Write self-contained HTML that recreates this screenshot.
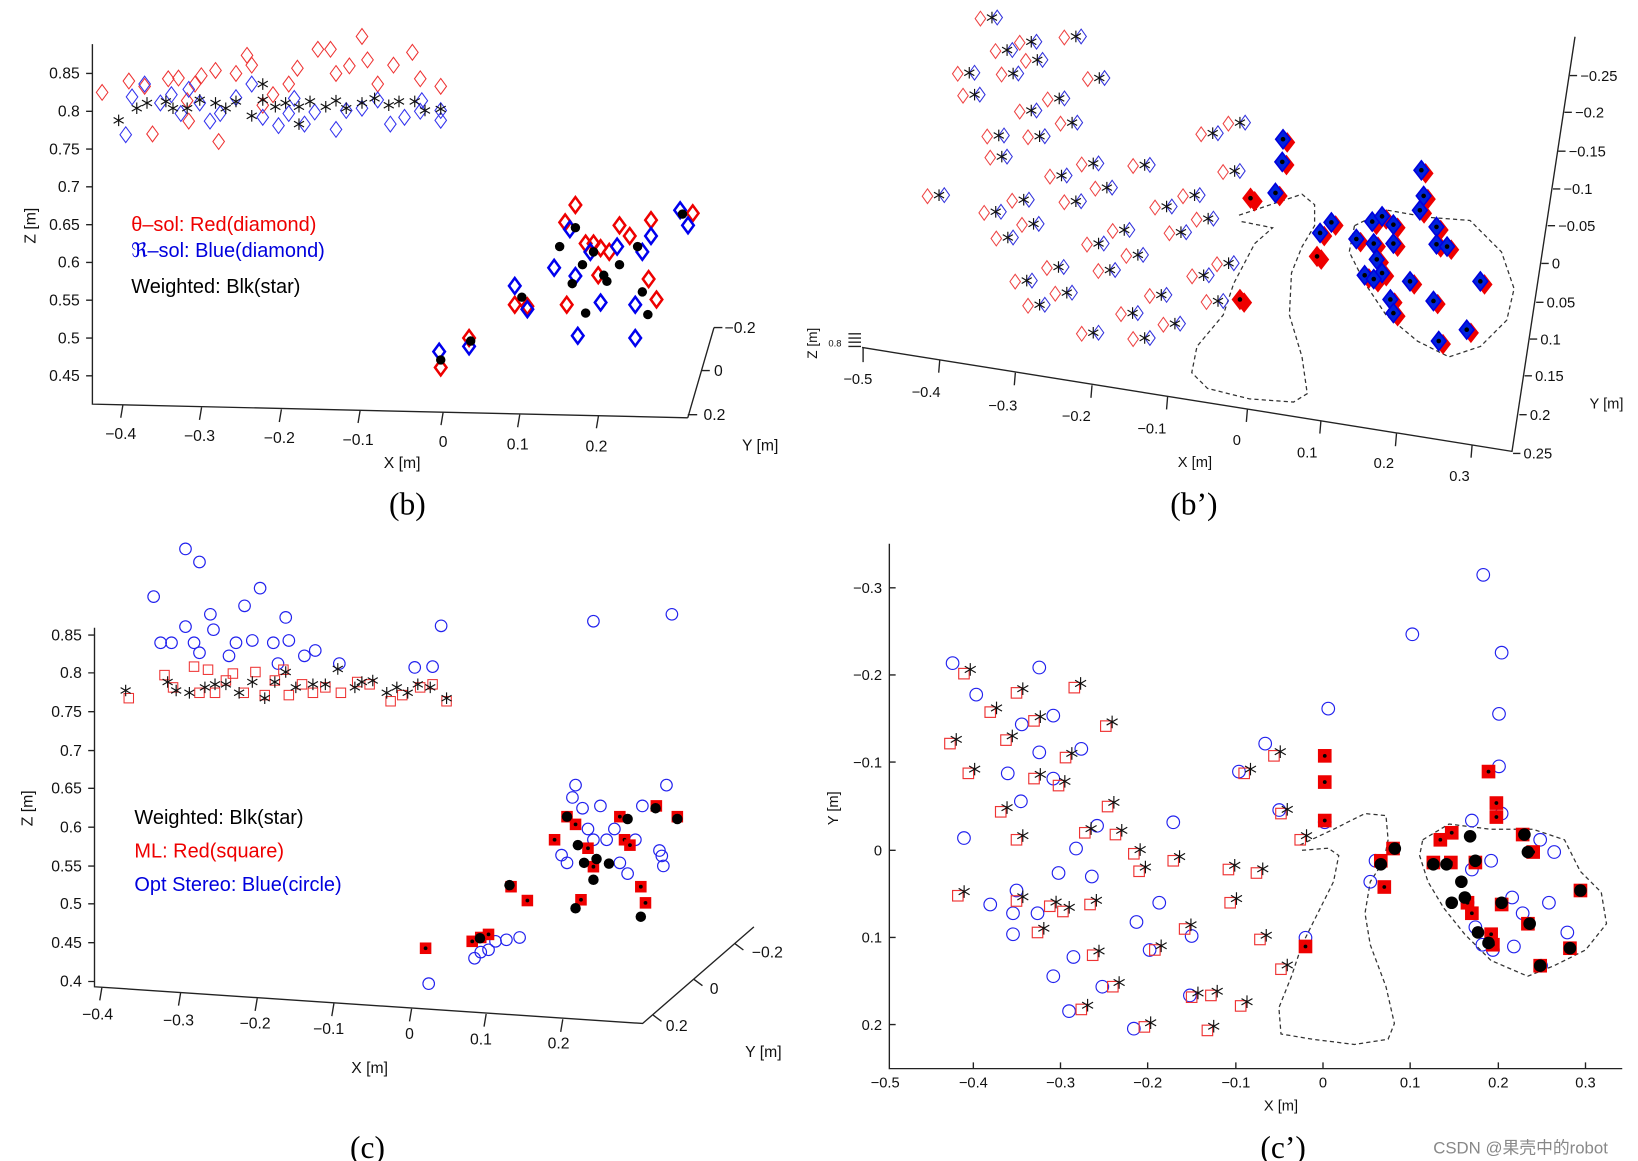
<!DOCTYPE html>
<html><head><meta charset="utf-8"><style>
html,body{margin:0;padding:0;background:#fff;width:1638px;height:1161px;overflow:hidden}
svg{display:block;font-family:"Liberation Sans",Arial,sans-serif}
.t{font-size:15px;fill:#111}
.cap{font-family:"Liberation Serif",serif;font-size:30px;fill:#000}
</style></head><body>
<svg id="chart" width="1638" height="1161" viewBox="0 0 1560 1106" preserveAspectRatio="none" xmlns="http://www.w3.org/2000/svg">
<g id="axes" stroke="#222" stroke-width="1.3" fill="none">
 <path d="M88 42 L88 385 L655 398 M655 398 L680 312 M680 312 L688 312 M668 353 L676 353 M655 395 L664 395"/>
 <path d="M82 70H88M82 106H88M82 142H88M82 178H88M82 214H88M82 250H88M82 286H88M82 322H88M82 358H88"/>
 <path d="M117 386 L115 398M192 388 L190 400M268 390L266 402M343 391L341 403M422 393L420 405M495 395L493 407M570 396L568 408"/>
 <path d="M821 331 L1440 430 L1500 35"/>
 <path d="M822 331L822 345M895 343L894 355M967 355L966 367M1040 367L1039 379M1112 378L1111 390M1188 390L1187 402M1258 401L1257 413M1330 413L1329 425M1402 424L1401 436"/>
 <path d="M1495 72h7M1490 107h7M1484 144h7M1479 180h7M1474 215h7M1468 251h7M1463 288h7M1457 323h7M1452 358h7M1447 395h7M1441 432h7"/>
 <path d="M808 318h12M808 322h12M808 326h12M808 330h12"/>
 <path d="M90 598 L90 940 L612 975 L718 883"/>
 <path d="M84 605H90M84 641H90M84 678H90M84 715H90M84 751H90M84 788H90M84 825H90M84 861H90M84 898H90M84 935H90"/>
 <path d="M97 941L95 953M172 946L170 958M245 951L243 963M318 956L316 968M392 961L390 973M463 966L461 978M536 971L534 983"/>
 <path d="M700 899l8 6M661 933l8 6M622 967l8 6"/>
 <path d="M847 518 L847 1018 L1545 1018"/>
 <path d="M847 560h6M847 643h6M847 726h6M847 810h6M847 893h6M847 976h6"/>
 <path d="M927 1018v-6M1010 1018v-6M1093 1018v-6M1177 1018v-6M1260 1018v-6M1343 1018v-6M1427 1018v-6M1510 1018v-6"/>
</g>
<g id="outlines" fill="none" stroke="#333" stroke-width="1.2" stroke-dasharray="4 3">
 <path d="M1180 205 L1210 195 L1240 185 L1252 195 L1252 215 L1240 235 L1230 260 L1228 300 L1240 340 L1245 375 L1232 383 L1190 380 L1150 370 L1135 355 L1140 330 L1165 300 L1175 270 L1195 232 L1212 217 L1182 211"/>
 <path d="M1290 215 L1320 200 L1360 207 L1400 210 L1430 240 L1442 275 L1435 305 L1410 330 L1380 340 L1350 325 L1320 300 L1300 270 L1285 240 Z"/>
 <path d="M1238 805 L1270 790 L1300 775 L1320 777 L1322 800 L1318 820 L1305 840 L1300 870 L1305 900 L1320 940 L1328 975 L1322 990 L1290 995 L1250 990 L1220 985 L1218 960 L1230 930 L1240 900 L1255 870 L1270 840 L1275 815 L1265 808 L1240 810"/>
 <path d="M1355 800 L1380 785 L1420 790 L1460 790 L1490 800 L1505 830 L1525 850 L1530 880 L1510 905 L1480 920 L1455 930 L1420 915 L1395 890 L1375 865 L1360 840 L1352 815 Z"/>
</g>
<g id="labels">
 <g class="t" text-anchor="end">
  <text x="76" y="75">0.85</text><text x="76" y="111">0.8</text><text x="76" y="147">0.75</text><text x="76" y="183">0.7</text><text x="76" y="219">0.65</text><text x="76" y="255">0.6</text><text x="76" y="291">0.55</text><text x="76" y="327">0.5</text><text x="76" y="363">0.45</text>
 </g>
 <g class="t" text-anchor="middle">
  <text x="115" y="418">−0.4</text><text x="190" y="420">−0.3</text><text x="266" y="422">−0.2</text><text x="341" y="424">−0.1</text><text x="422" y="426">0</text><text x="493" y="428">0.1</text><text x="568" y="430">0.2</text>
 </g>
 <g class="t"><text x="690" y="317">−0.2</text><text x="680" y="358">0</text><text x="670" y="400">0.2</text></g>
 <text class="t" x="383" y="446" text-anchor="middle">X [m]</text>
 <text class="t" x="724" y="429" text-anchor="middle">Y [m]</text>
 <text class="t" transform="translate(34,215) rotate(-90)" text-anchor="middle">Z [m]</text>
 <g style="font-size:19px">
  <text x="125" y="220" fill="#e00">θ–sol: Red(diamond)</text>
  <text x="125" y="245" fill="#00d">ℜ–sol: Blue(diamond)</text>
  <text x="125" y="279" fill="#000">Weighted: Blk(star)</text>
 </g>
 <g class="t" style="font-size:14px" text-anchor="middle">
  <text x="817" y="366">−0.5</text><text x="882" y="378">−0.4</text><text x="955" y="391">−0.3</text><text x="1025" y="401">−0.2</text><text x="1097" y="413">−0.1</text><text x="1178" y="424">0</text><text x="1245" y="436">0.1</text><text x="1318" y="446">0.2</text><text x="1390" y="458">0.3</text>
 </g>
 <g class="t" style="font-size:14px">
  <text x="1505" y="77">−0.25</text><text x="1500" y="112">−0.2</text><text x="1494" y="149">−0.15</text><text x="1489" y="185">−0.1</text><text x="1484" y="220">−0.05</text><text x="1478" y="256">0</text><text x="1473" y="293">0.05</text><text x="1467" y="328">0.1</text><text x="1462" y="363">0.15</text><text x="1457" y="400">0.2</text><text x="1451" y="437">0.25</text>
 </g>
 <text class="t" style="font-size:14px" x="1138" y="445" text-anchor="middle">X [m]</text>
 <text class="t" style="font-size:14px" x="1530" y="389" text-anchor="middle">Y [m]</text>
 <text class="t" style="font-size:13px" transform="translate(778,327) rotate(-90)" text-anchor="middle">Z [m]</text>
 <text class="t" style="font-size:9px" x="789" y="330">0.8</text>
 <g class="t" text-anchor="end">
  <text x="78" y="610">0.85</text><text x="78" y="646">0.8</text><text x="78" y="683">0.75</text><text x="78" y="720">0.7</text><text x="78" y="756">0.65</text><text x="78" y="793">0.6</text><text x="78" y="830">0.55</text><text x="78" y="866">0.5</text><text x="78" y="903">0.45</text><text x="78" y="940">0.4</text>
 </g>
 <g class="t" text-anchor="middle">
  <text x="93" y="971">−0.4</text><text x="170" y="977">−0.3</text><text x="243" y="980">−0.2</text><text x="313" y="985">−0.1</text><text x="390" y="990">0</text><text x="458" y="995">0.1</text><text x="532" y="999">0.2</text>
 </g>
 <g class="t"><text x="716" y="912">−0.2</text><text x="676" y="947">0</text><text x="634" y="982">0.2</text></g>
 <text class="t" x="352" y="1022" text-anchor="middle">X [m]</text>
 <text class="t" x="727" y="1007" text-anchor="middle">Y [m]</text>
 <text class="t" transform="translate(31,770) rotate(-90)" text-anchor="middle">Z [m]</text>
 <g style="font-size:19px">
  <text x="128" y="785" fill="#000">Weighted: Blk(star)</text>
  <text x="128" y="817" fill="#e00">ML: Red(square)</text>
  <text x="128" y="849" fill="#00d">Opt Stereo: Blue(circle)</text>
 </g>
 <g class="t" style="font-size:14px" text-anchor="end">
  <text x="840" y="565">−0.3</text><text x="840" y="648">−0.2</text><text x="840" y="731">−0.1</text><text x="840" y="815">0</text><text x="840" y="898">0.1</text><text x="840" y="981">0.2</text>
 </g>
 <g class="t" style="font-size:14px" text-anchor="middle">
  <text x="843" y="1036">−0.5</text><text x="927" y="1036">−0.4</text><text x="1010" y="1036">−0.3</text><text x="1093" y="1036">−0.2</text><text x="1177" y="1036">−0.1</text><text x="1260" y="1036">0</text><text x="1343" y="1036">0.1</text><text x="1427" y="1036">0.2</text><text x="1510" y="1036">0.3</text>
 </g>
 <text class="t" style="font-size:14px" x="1220" y="1058" text-anchor="middle">X [m]</text>
 <text class="t" style="font-size:14px" transform="translate(798,770) rotate(-90)" text-anchor="middle">Y [m]</text>
 <text class="cap" x="388" y="490" text-anchor="middle">(b)</text>
 <text class="cap" x="1137" y="490" text-anchor="middle">(b’)</text>
 <text class="cap" x="350" y="1103" text-anchor="middle">(c)</text>
 <text class="cap" x="1222" y="1103" text-anchor="middle">(c’)</text>
 <text x="1365" y="1099" style="font-family:'Liberation Sans','Noto Sans CJK SC',sans-serif;font-size:16px" fill="#888">CSDN @果壳中的robot</text>
</g>
<g id="marks"></g>
</svg>
<script>
const bRedUpX=[-0.433,-0.399,-0.379,-0.369,-0.349,-0.336,-0.325,-0.315,-0.307,-0.289,-0.285,-0.263,-0.249,-0.243,-0.216,-0.196,-0.185,-0.159,-0.143,-0.136,-0.119,-0.103,-0.096,-0.083,-0.063,-0.039,-0.029,-0.003,-0.323,-0.229];
const bRedUpZ=[0.825,0.84,0.833,0.77,0.843,0.844,0.814,0.836,0.847,0.854,0.76,0.85,0.874,0.861,0.822,0.836,0.857,0.882,0.882,0.85,0.86,0.899,0.868,0.836,0.861,0.878,0.843,0.833,0.787,0.808];
const bBlueUpX=[-0.403,-0.395,-0.379,-0.359,-0.345,-0.333,-0.323,-0.309,-0.296,-0.283,-0.263,-0.243,-0.229,-0.209,-0.196,-0.189,-0.176,-0.163,-0.136,-0.123,-0.103,-0.083,-0.067,-0.049,-0.029,-0.027,-0.003,-0.003];
const bBlueUpZ=[0.769,0.819,0.836,0.811,0.822,0.797,0.829,0.811,0.787,0.797,0.818,0.836,0.792,0.781,0.797,0.817,0.783,0.799,0.776,0.801,0.804,0.815,0.783,0.792,0.8,0.814,0.788,0.801];
const bStarX=[-0.412,-0.389,-0.376,-0.352,-0.343,-0.325,-0.309,-0.289,-0.276,-0.263,-0.243,-0.229,-0.213,-0.2,-0.183,-0.169,-0.149,-0.136,-0.123,-0.103,-0.087,-0.069,-0.056,-0.036,-0.023,-0.003,-0.229,-0.183];
const bStarZ=[0.788,0.804,0.811,0.813,0.804,0.804,0.815,0.811,0.804,0.813,0.794,0.815,0.806,0.811,0.806,0.813,0.806,0.814,0.804,0.811,0.817,0.808,0.813,0.813,0.801,0.803,0.836,0.783];
const bRedLoX=[-0.003,0.033,0.091,0.107,0.155,0.168,0.181,0.191,0.2,0.211,0.224,0.237,0.264,0.261,0.271,0.317,0.157,0.197];
const bRedLoZ=[0.461,0.5,0.544,0.542,0.653,0.676,0.625,0.625,0.619,0.614,0.649,0.635,0.656,0.578,0.551,0.665,0.544,0.583];
const bBlueLoX=[-0.005,0.033,0.091,0.107,0.141,0.161,0.168,0.171,0.187,0.2,0.221,0.244,0.244,0.253,0.264,0.301,0.311];
const bBlueLoZ=[0.482,0.489,0.569,0.538,0.593,0.644,0.582,0.503,0.614,0.547,0.621,0.544,0.5,0.614,0.635,0.669,0.649];
const bDotX=[-0.003,0.035,0.1,0.148,0.168,0.177,0.181,0.191,0.204,0.224,0.208,0.247,0.253,0.26,0.304,0.164];
const bDotZ=[0.471,0.496,0.554,0.621,0.646,0.597,0.533,0.614,0.583,0.597,0.575,0.621,0.561,0.531,0.664,0.572];
const bpSiteX=[-0.324,-0.272,-0.304,-0.264,-0.354,-0.296,-0.347,-0.213,-0.182,-0.235,-0.272,-0.218,-0.315,-0.261,-0.311,-0.19,-0.232,-0.122,-0.394,-0.282,-0.213,-0.172,-0.319,-0.269,-0.303,-0.183,-0.149,-0.093,-0.056,-0.038,-0.074,-0.131,-0.168,-0.236,-0.278,-0.225,-0.261,-0.1,-0.138,-0.19,-0.122,-0.082,-0.044,-0.011,-0.025,-0.032,0.004,-0.003];
const bpSiteY=[-0.324,-0.292,-0.281,-0.268,-0.251,-0.25,-0.222,-0.299,-0.244,-0.217,-0.201,-0.185,-0.168,-0.167,-0.14,-0.131,-0.115,-0.129,-0.089,-0.083,-0.081,-0.099,-0.067,-0.051,-0.033,-0.025,-0.043,-0.074,-0.089,-0.058,-0.04,-0.01,0.01,0.006,0.024,0.04,0.056,0.043,0.067,0.093,0.1,0.081,0.017,0.001,0.051,-0.171,-0.185,-0.121];
const bpFillX=[0.061,0.06,0.051,0.018,0.004,0.11,0.125,0.106,0.244,0.247,0.242,0.158,0.179,0.192,0.207,0.181,0.207,0.185,0.192,0.169,0.181,0.229,0.264,0.264,0.278,0.322,0.26,0.203,0.207,0.304,0.267];
const bpFillY=[-0.163,-0.133,-0.092,-0.085,0.049,-0.039,-0.053,-0.008,-0.122,-0.088,-0.069,-0.031,-0.054,-0.061,-0.05,-0.025,-0.025,-0.004,0.014,0.017,0.022,0.025,-0.047,-0.024,-0.021,0.025,0.051,0.049,0.067,0.089,0.104];
const bpRedFilled=[0,0,0,1,1,0,0,1,0,0,0,0,0,0,0,0,0,0,0,0,0,0,0,0,0,0,0,0,0,0,0];
const cBlueX=[-0.291,-0.273,-0.332,-0.323,-0.309,-0.291,-0.273,-0.28,-0.259,-0.255,-0.235,-0.226,-0.215,-0.205,-0.195,-0.178,-0.172,-0.162,-0.158,-0.138,-0.124,-0.093,0.004,0.027,0.038,0.234,0.335,0.022,0.081,0.089,0.099,0.108,0.122,0.139,0.193,0.2,0.207,0.211,0.22,0.227,0.234,0.243,0.251,0.261,0.268,0.278,0.288,0.297,0.319,0.324,0.328,0.322];
const cBlueZ=[0.962,0.945,0.9,0.84,0.84,0.861,0.827,0.84,0.877,0.857,0.823,0.84,0.888,0.843,0.911,0.84,0.813,0.873,0.843,0.823,0.83,0.813,0.808,0.809,0.862,0.868,0.877,0.397,0.43,0.438,0.441,0.452,0.454,0.457,0.564,0.554,0.639,0.655,0.625,0.598,0.584,0.628,0.584,0.598,0.554,0.54,0.584,0.628,0.57,0.55,0.655,0.563];
const cRedX=[-0.364,-0.318,-0.307,-0.28,-0.273,-0.262,-0.253,-0.239,-0.23,-0.216,-0.201,-0.189,-0.176,-0.165,-0.158,-0.141,-0.127,-0.111,-0.091,-0.07,-0.054,-0.027,-0.012,0.011,0.027,0.045];
const cRedZ=[0.768,0.798,0.782,0.809,0.775,0.805,0.775,0.791,0.8,0.775,0.802,0.772,0.791,0.805,0.772,0.786,0.775,0.782,0.775,0.789,0.786,0.764,0.772,0.782,0.786,0.764];
const cStarX=[-0.368,-0.314,-0.303,-0.286,-0.266,-0.253,-0.239,-0.222,-0.205,-0.189,-0.176,-0.162,-0.149,-0.127,-0.111,-0.095,-0.073,-0.064,-0.05,-0.032,-0.019,-0.005,0.008,0.024,0.045];
const cStarZ=[0.778,0.789,0.778,0.775,0.782,0.786,0.786,0.775,0.789,0.768,0.789,0.802,0.782,0.786,0.786,0.806,0.782,0.789,0.791,0.775,0.782,0.775,0.786,0.782,0.768];
const cRedFillX=[0.018,0.078,0.089,0.099,0.128,0.149,0.184,0.2,0.211,0.218,0.227,0.234,0.268,0.274,0.281,0.295,0.301,0.315,0.342];
const cRedFillZ=[0.443,0.452,0.457,0.461,0.523,0.505,0.584,0.614,0.604,0.506,0.573,0.549,0.614,0.584,0.577,0.523,0.502,0.628,0.614];
const cDotX=[0.088,0.126,0.2,0.214,0.211,0.222,0.234,0.238,0.254,0.278,0.295,0.314,0.342];
const cDotZ=[0.456,0.525,0.614,0.577,0.495,0.554,0.532,0.559,0.553,0.611,0.484,0.625,0.611];
const cpRedX=[-0.41,-0.35,-0.38,-0.362,-0.33,-0.284,-0.248,-0.426,-0.405,-0.294,-0.33,-0.302,-0.368,-0.35,-0.246,-0.272,-0.237,-0.216,-0.312,-0.266,-0.21,-0.35,-0.417,-0.326,-0.297,-0.263,-0.24,-0.192,-0.171,-0.15,-0.128,-0.106,-0.072,-0.048,-0.158,-0.276,-0.204,-0.132,-0.094,-0.108,-0.076,-0.056,-0.09,-0.048,-0.026];
const cpRedY=[-0.202,-0.18,-0.158,-0.126,-0.148,-0.186,-0.142,-0.122,-0.088,-0.106,-0.082,-0.074,-0.044,-0.012,-0.05,-0.02,-0.018,0.004,0.064,0.062,0.024,0.058,0.052,0.094,0.07,0.12,0.156,0.114,0.012,0.168,0.166,0.06,0.102,0.136,0.09,0.182,0.202,0.206,0.178,0.022,0.026,-0.108,-0.088,-0.042,-0.012];
const cpBlueX=[-0.423,-0.396,-0.324,-0.344,-0.308,-0.36,-0.324,-0.308,-0.345,-0.41,-0.276,-0.258,-0.282,-0.264,-0.302,-0.35,-0.354,-0.38,-0.326,-0.354,-0.308,-0.285,-0.29,-0.252,-0.213,-0.198,-0.187,-0.15,-0.152,-0.216,-0.096,-0.066,-0.05,0.006,0.002,-0.02,-0.171,0.102,0.183,0.204,0.201,0.201,0.204,0.06,0.054,0.17,0.17,0.192,0.216,0.248,0.264,0.258,0.174,0.165,0.228,0.182,0.279,0.249,0.218,0.194];
const cpBlueY=[-0.214,-0.178,-0.209,-0.144,-0.154,-0.088,-0.112,-0.082,-0.056,-0.014,-0.116,-0.028,-0.002,0.03,0.026,0.046,0.072,0.062,0.072,0.096,0.144,0.122,0.184,0.156,0.082,0.114,0.06,0.098,0.166,0.204,-0.09,-0.122,-0.046,-0.162,-0.032,0.1,-0.032,-0.247,-0.315,-0.226,-0.156,-0.096,-0.042,0.012,0.036,-0.034,0.022,0.012,0.054,-0.012,0.002,0.06,0.088,0.06,0.072,0.108,0.094,0.132,0.11,0.114];
const cpRedFillX=[0.002,0.002,0.002,0.066,0.08,0.07,-0.02,0.189,0.198,0.198,0.147,0.134,0.126,0.146,0.174,0.24,0.228,0.165,0.17,0.204,0.234,0.192,0.194,0.294,0.248,0.282];
const cpRedFillY=[-0.108,-0.078,-0.034,0.012,-0.002,0.042,0.11,-0.09,-0.054,-0.038,-0.02,-0.012,0.014,0.014,0.014,0.002,-0.018,0.06,0.072,0.062,0.084,0.096,0.108,0.046,0.132,0.112];
const cpDotX=[0.168,0.23,0.234,0.126,0.141,0.174,0.158,0.147,0.162,0.204,0.236,0.177,0.189,0.294,0.248,0.282,0.066,0.082];
const cpDotY=[-0.016,-0.018,0.002,0.016,0.016,0.012,0.036,0.06,0.054,0.06,0.084,0.094,0.106,0.046,0.132,0.112,0.016,-0.002];

const bX=x=>422+750*x, bZ=z=>70+720*(0.85-z);
const bpX=x=>1178+720*x, bpY=y=>250+720*y;
const cX=x=>392+740*x, cZ=z=>605+733*(0.85-z);
const cpX=x=>1260+834*x, cpY=y=>810+833*y;

const NS='http://www.w3.org/2000/svg';
const root=document.getElementById('marks');
function grp(name){const g=document.createElementNS(NS,'g');


root.appendChild(g);return g;}
function el(tag,parent,attrs){const e=document.createElementNS(NS,tag);for(const k in attrs)e.setAttribute(k,attrs[k]);parent.appendChild(e);return e;}
function diamond(g,x,y,w,h,stroke,fill,sw){const e=el('path',g,{d:`M${x} ${y-h}L${x+w} ${y}L${x} ${y+h}L${x-w} ${y}Z`,stroke:stroke,fill:fill,'stroke-width':sw});

}
function star(g,x,y,r){const a=r,b=r*0.87,c=r*0.5;const e=el('path',g,{d:`M${x} ${y-a}V${y+a}M${x-b} ${y-c}L${x+b} ${y+c}M${x-b} ${y+c}L${x+b} ${y-c}`,stroke:'#111',fill:'none','stroke-width':1.1});

}
function circ(g,x,y,r,stroke,fill,sw){const e=el('circle',g,{cx:x,cy:y,r:r,stroke:stroke,fill:fill,'stroke-width':sw});

}
function sq(g,x,y,s,stroke,fill,sw){const e=el('rect',g,{x:x-s,y:y-s,width:2*s,height:2*s,stroke:stroke,fill:fill,'stroke-width':sw});

}

let g=grp('b-theta-sol-upper');bRedUpX.forEach((v,i)=>diamond(g,bX(v),bZ(bRedUpZ[i]),5.5,7.5,'#e33','none',1));
g=grp('b-r-sol-upper');bBlueUpX.forEach((v,i)=>diamond(g,bX(v),bZ(bBlueUpZ[i]),5.5,7.5,'#33e','none',1));
g=grp('b-weighted-upper');bStarX.forEach((v,i)=>star(g,bX(v),bZ(bStarZ[i]),5.5));
g=grp('b-theta-sol-lower');bRedLoX.forEach((v,i)=>diamond(g,bX(v),bZ(bRedLoZ[i]),5.5,7.5,'#e00','none',2.4));
g=grp('b-r-sol-lower');bBlueLoX.forEach((v,i)=>diamond(g,bX(v),bZ(bBlueLoZ[i]),5.5,7.5,'#00e','none',2.4));
g=grp('b-weighted-lower');bDotX.forEach((v,i)=>circ(g,bX(v),bZ(bDotZ[i]),4.5,'none','#000',0));
g=grp('bp-theta-sol');bpSiteX.forEach((v,i)=>diamond(g,bpX(v)-11,bpY(bpSiteY[i])+1,5,7,'#e44','none',1));
g=grp('bp-r-sol');bpSiteX.forEach((v,i)=>diamond(g,bpX(v)+5,bpY(bpSiteY[i]),5,7,'#33d','none',1));
g=grp('bp-weighted');bpSiteX.forEach((v,i)=>star(g,bpX(v),bpY(bpSiteY[i]),5.5));
g=grp('bp-theta-sol-filled');bpFillX.forEach((v,i)=>diamond(g,bpX(v)+4,bpY(bpFillY[i])+3,7,9,'#e00','#e00',1));
g=grp('bp-r-sol-filled');bpFillX.forEach((v,i)=>diamond(g,bpX(v),bpY(bpFillY[i]),7,9,bpRedFilled[i]?'#e00':'#00d',bpRedFilled[i]?'#e00':'#0022dd',1.5));
g=grp('bp-weighted-filled');bpFillX.forEach((v,i)=>circ(g,bpX(v),bpY(bpFillY[i]),2.2,'none','#000',0));
g=grp('c-opt-stereo');cBlueX.forEach((v,i)=>circ(g,cX(v),cZ(cBlueZ[i]),5.5,'#22e','none',1.1));
g=grp('c-ml-upper');cRedX.forEach((v,i)=>sq(g,cX(v),cZ(cRedZ[i]),4.5,'#e33','none',1));
g=grp('c-weighted-upper');cStarX.forEach((v,i)=>star(g,cX(v),cZ(cStarZ[i]),5.5));
g=grp('c-ml-lower');cRedFillX.forEach((v,i)=>{sq(g,cX(v),cZ(cRedFillZ[i]),4.8,'#e00','#e00',1.4);circ(g,cX(v),cZ(cRedFillZ[i]),1.8,'none','#000',0);});
g=grp('c-weighted-lower');cDotX.forEach((v,i)=>circ(g,cX(v),cZ(cDotZ[i]),5,'none','#000',0));
g=grp('cp-opt-stereo');cpBlueX.forEach((v,i)=>circ(g,cpX(v),cpY(cpBlueY[i]),6,'#22e','none',1.1));
g=grp('cp-ml');cpRedX.forEach((v,i)=>sq(g,cpX(v),cpY(cpRedY[i]),5,'#e33','none',1.1));
g=grp('cp-weighted');cpRedX.forEach((v,i)=>star(g,cpX(v)+6,cpY(cpRedY[i])-4,6));
g=grp('cp-ml-filled');cpRedFillX.forEach((v,i)=>{sq(g,cpX(v),cpY(cpRedFillY[i]),6,'#e00','#e00',1);circ(g,cpX(v),cpY(cpRedFillY[i]),1.8,'none','#000',0);});
g=grp('cp-weighted-filled');cpDotX.forEach((v,i)=>circ(g,cpX(v),cpY(cpDotY[i]),6,'none','#000',0));
</script>
</body></html>
